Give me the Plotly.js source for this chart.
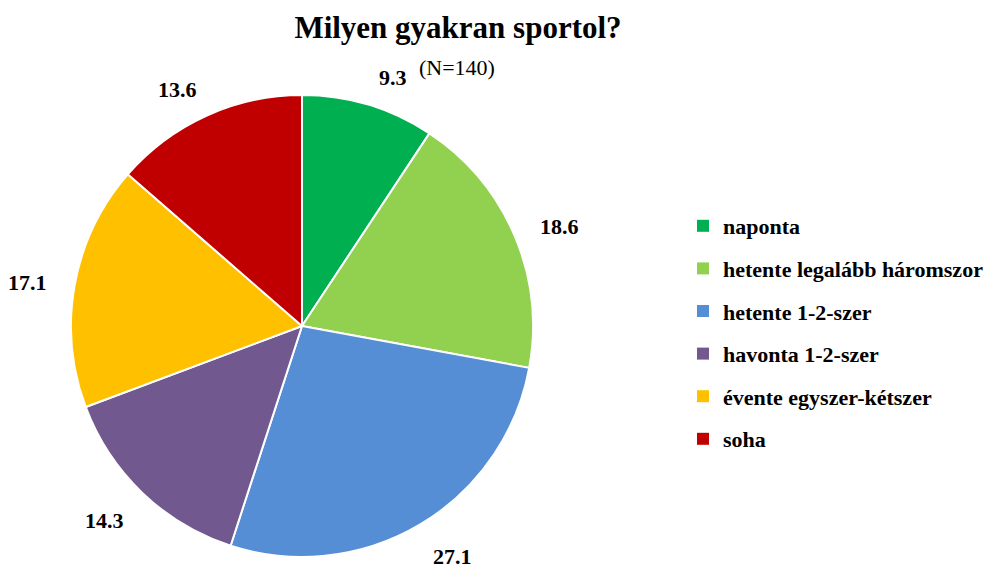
<!DOCTYPE html>
<html>
<head>
<meta charset="utf-8">
<script src="https://cdn.plot.ly/plotly-3.0.1.min.js"></script>
<style>html,body{margin:0;padding:0;background:#fff;}#chart{width:991px;height:568px;}</style>
</head>
<body>
<div id="chart"></div>
<script>
const categories = ["naponta", "hetente legalább háromszor", "hetente 1-2-szer", "havonta 1-2-szer", "évente egyszer-kétszer", "soha"];
const values = [9.3, 18.6, 27.1, 14.3, 17.1, 13.6];
const colors = ["#00B050", "#92D050", "#558ED5", "#71588F", "#FFC000", "#C00000"];
const titleText = "Milyen gyakran sportol?";
const subtitleText = "(N=140)";

const W = 991, H = 568;
const cx = 302, cy = 326, r = 231;
const serif = "'Liberation Serif', 'Times New Roman', serif";

const pie = {
  type: "pie",
  labels: categories,
  values: values,
  sort: false,
  direction: "clockwise",
  rotation: 0,
  textinfo: "none",
  hoverinfo: "label+value",
  marker: {colors: colors, line: {color: "#ffffff", width: 2}},
  domain: {x: [(cx - r) / W, (cx + r) / W], y: [(H - cy - r) / H, (H - cy + r) / H]},
  showlegend: false
};

const legendTraces = categories.map((c, i) => ({
  type: "scatter", mode: "markers", x: [null], y: [null],
  name: c, legendgroup: "g" + i,
  marker: {symbol: "square", size: 12, color: colors[i]},
  hoverinfo: "skip"
}));

const total = values.reduce((a, b) => a + b, 0);
let cum = 0;
const annotations = values.map((v) => {
  const th = 2 * Math.PI * (cum + v / 2) / total;
  cum += v;
  const R = 264;
  const s = Math.sin(th);
  const px = cx + R * s + 15 * Math.sign(s);
  const py = cy - R * Math.cos(th) + 4;
  return {
    xref: "paper", yref: "paper", x: px / W, y: 1 - py / H,
    xanchor: "center", yanchor: "middle", showarrow: false,
    text: v.toFixed(1),
    font: {family: serif, size: 22, color: "#000", weight: "bold"}
  };
});
annotations.push({
  xref: "paper", yref: "paper", x: 457 / W, y: 1 - 68 / H,
  xanchor: "center", yanchor: "middle", showarrow: false,
  text: subtitleText,
  font: {family: serif, size: 22, color: "#000"}
});

const layout = {
  width: W, height: H,
  margin: {l: 0, r: 0, t: 0, b: 0},
  paper_bgcolor: "#ffffff", plot_bgcolor: "#ffffff",
  title: {
    text: "<b>" + titleText + "</b>",
    font: {family: serif, size: 31, color: "#000"},
    x: 458 / W, xanchor: "center", xref: "paper",
    y: 1 - 27 / H, yanchor: "middle", yref: "container"
  },
  xaxis: {visible: false, domain: [0.7, 0.71]},
  yaxis: {visible: false, domain: [0.7, 0.71]},
  showlegend: true,
  legend: {
    x: 683 / W, xanchor: "left", y: 1 - 205 / H, yanchor: "top",
    font: {family: serif, size: 22, color: "#000", weight: "bold"},
    tracegroupgap: 11,
    itemclick: false, itemdoubleclick: false,
    bgcolor: "rgba(0,0,0,0)"
  },
  annotations: annotations
};

Plotly.newPlot("chart", [pie].concat(legendTraces), layout, {displayModeBar: false, staticPlot: true});
</script>
</body>
</html>
